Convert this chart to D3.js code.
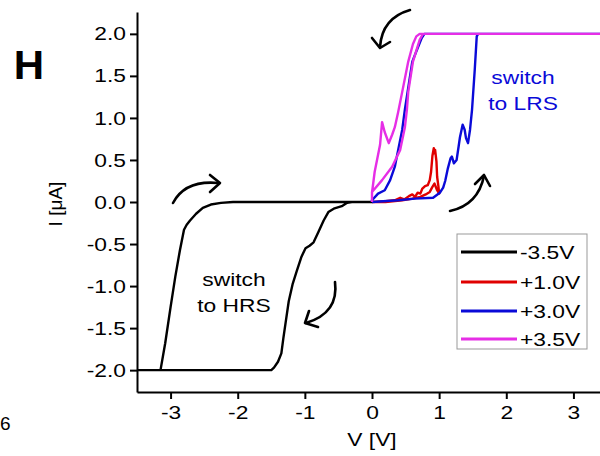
<!DOCTYPE html>
<html><head><meta charset="utf-8">
<script src="https://cdn.jsdelivr.net/npm/d3@7"></script>
<style>body{margin:0;background:#fff}svg{display:block}text{font-family:"Liberation Sans",Arial,Helvetica,sans-serif}</style>
</head><body><svg id="c" width="600" height="456"></svg>
<script>
const xTicks = [-3, -2, -1, 0, 1, 2, 3];
const yTicks = [-2.0, -1.5, -1.0, -0.5, 0.0, 0.5, 1.0, 1.5, 2.0];
const seriesNames = ["-3.5V", "+1.0V", "+3.0V", "+3.5V"];
const seriesColors = ["#000000", "#e00000", "#0a0ad8", "#e62ee6"];

const dataNeg35 = [[-3.5,-2.0],[-3.15,-2.0],[-3.08,-1.68],[-3.0,-1.25],[-2.93,-0.89],[-2.86,-0.57],[-2.80,-0.33],[-2.76,-0.27],[-2.71,-0.22],[-2.62,-0.14],[-2.52,-0.07],[-2.40,-0.03],[-2.25,-0.01],[-2.07,0],[0,0],
  [-0.3,0],[-0.37,-0.01],[-0.45,-0.05],[-0.57,-0.08],[-0.65,-0.12],[-0.72,-0.22],[-0.80,-0.36],[-0.87,-0.48],[-0.93,-0.52],[-0.99,-0.55],[-1.05,-0.65],[-1.12,-0.82],[-1.18,-0.97],[-1.24,-1.18],[-1.28,-1.40],[-1.32,-1.62],[-1.35,-1.80],[-1.40,-1.90],[-1.46,-1.97],[-1.50,-2.0],[-3.5,-2.0]];
const dataPos10 = [[0,0],[0.2,0.01],[0.34,0.02],[0.42,0.05],[0.48,0.03],[0.55,0.07],[0.60,0.09],[0.64,0.06],[0.68,0.11],[0.72,0.10],[0.75,0.16],[0.79,0.19],[0.83,0.20],[0.86,0.26],[0.88,0.36],[0.90,0.55],[0.92,0.64],[0.93,0.58],[0.94,0.62],[0.96,0.48],[0.97,0.30],[0.99,0.18],[1.0,0.1],[0.97,0.14],[0.93,0.22],[0.90,0.18],[0.86,0.12],[0.80,0.09],[0.72,0.06],[0.60,0.04],[0.45,0.02],[0.2,0.0],[0,0]];
const dataPos30 = [[0,0],[0.39,0.02],[0.64,0.04],[0.91,0.05],[1.01,0.11],[1.06,0.17],[1.09,0.25],[1.13,0.40],[1.17,0.52],[1.19,0.54],[1.22,0.46],[1.26,0.50],[1.29,0.66],[1.31,0.77],[1.35,0.92],[1.38,0.86],[1.40,0.76],[1.43,0.70],[1.46,0.86],[1.49,1.10],[1.53,1.57],[1.56,1.97],[1.58,2.0],[3.5,2.0],
  [0.78,2.0],[0.74,1.95],[0.60,1.67],[0.49,1.10],[0.45,0.86],[0.39,0.62],[0.34,0.42],[0.27,0.26],[0.19,0.14],[0.09,0.10],[0,0.02],[0,0]];
const dataPos35 = [[0,0],[0,0.11],[0.04,0.36],[0.12,0.68],[0.15,0.95],[0.19,0.83],[0.25,0.70],[0.30,0.80],[0.34,0.89],[0.39,1.07],[0.45,1.31],[0.54,1.67],[0.61,1.88],[0.66,1.97],[0.71,2.0],[3.5,2.0],
  [0.76,2.0],[0.71,1.93],[0.61,1.67],[0.54,1.31],[0.52,1.10],[0.49,0.89],[0.42,0.62],[0.30,0.42],[0.15,0.26],[0,0.12],[0,0]];
const allSeries = [dataNeg35, dataPos10, dataPos30, dataPos35];

const SX = 1.2; // horizontal text stretch seen in the reference
const svg = d3.select("#c");
const x = d3.scaleLinear().domain([-3.5, 3.5]).range([137, 607]);
const y = d3.scaleLinear().domain([-2.26, 2.26]).range([392, 12]);

// curves
const line = d3.line().x(d => x(d[0])).y(d => y(d[1])).curve(d3.curveLinear);
allSeries.forEach((s, i) => {
  svg.append("path").attr("d", line(s)).attr("fill", "none")
    .attr("stroke", seriesColors[i]).attr("stroke-width", 2.4).attr("stroke-linejoin", "round");
});

// axes
const fmt = d => d.toFixed(1);
const gy = svg.append("g").attr("transform", `translate(${x(-3.5)},0)`)
  .call(d3.axisLeft(y).tickValues(yTicks).tickFormat(fmt).tickSize(7).tickSizeOuter(0));
const gx = svg.append("g").attr("transform", `translate(0,${y(-2.26)})`)
  .call(d3.axisBottom(x).tickValues(xTicks).tickFormat(d => String(d)).tickSize(7).tickSizeOuter(0));
[gy, gx].forEach(g => {
  g.select(".domain").attr("stroke", "#000").attr("stroke-width", 2);
  g.selectAll(".tick line").attr("stroke", "#000").attr("stroke-width", 2);
  g.selectAll(".tick text").attr("fill", "#000").attr("font-size", 19).attr("font-family", "Liberation Sans, Arial, sans-serif");
});
gy.selectAll(".tick text").attr("x", -11 / SX).attr("transform", `scale(${SX},1)`);
gx.selectAll(".tick text").attr("y", 14).attr("transform", `scale(${SX},1)`).attr("x", 0);

function stretchedText(tx, ty, str, opts = {}) {
  return svg.append("text").attr("transform", `translate(${tx},${ty}) scale(${opts.sx || SX},1)`)
    .attr("text-anchor", opts.anchor || "middle").attr("font-size", opts.size || 19)
    .attr("font-weight", opts.weight || "normal").attr("fill", opts.fill || "#000").text(str);
}

// axis titles
stretchedText(372, 446, "V [V]");
svg.append("text").attr("transform", "translate(62,204) rotate(-90)").attr("text-anchor", "middle")
  .attr("font-size", 19).text("I [μA]");
// panel letter + stray label
stretchedText(29, 79, "H", {size: 40, weight: "bold", sx: 1.05});
stretchedText(0, 430, "6", {anchor: "start", sx: 1});

// annotations
stretchedText(234, 286, "switch");
stretchedText(234, 312, "to HRS");
stretchedText(523, 84, "switch", {fill: "#0a0ad8"});
stretchedText(523, 110, "to LRS", {fill: "#0a0ad8"});

// curved arrows
const arrows = [
  {c: "M410,10 Q382,18 380,47", h: "M372,38 L380,48 L390,42"},
  {c: "M450,211 Q478,205 484,176", h: "M475,184 L484,175 L490,186"},
  {c: "M173,203 Q185,180 218,183", h: "M210,175 L220,183 L210,192"},
  {c: "M335,282 Q339,313 306,323", h: "M309,311 L305,323 L318,327"}
];
arrows.forEach(a => {
  svg.append("path").attr("d", a.c).attr("fill", "none").attr("stroke", "#000").attr("stroke-width", 2.6).attr("stroke-linecap", "round");
  svg.append("path").attr("d", a.h).attr("fill", "none").attr("stroke", "#000").attr("stroke-width", 2.6).attr("stroke-linecap", "round").attr("stroke-linejoin", "round");
});

// legend
const lg = svg.append("g");
lg.append("rect").attr("x", 457).attr("y", 234).attr("width", 130).attr("height", 115)
  .attr("fill", "#fff").attr("stroke", "#999").attr("stroke-width", 1);
const rowY = [252, 282, 311, 339];
seriesNames.forEach((n, i) => {
  lg.append("line").attr("x1", 461).attr("x2", 517).attr("y1", rowY[i]).attr("y2", rowY[i])
    .attr("stroke", seriesColors[i]).attr("stroke-width", 3);
  stretchedText(520, rowY[i] + 7, n, {anchor: "start"});
});
</script></body></html>
